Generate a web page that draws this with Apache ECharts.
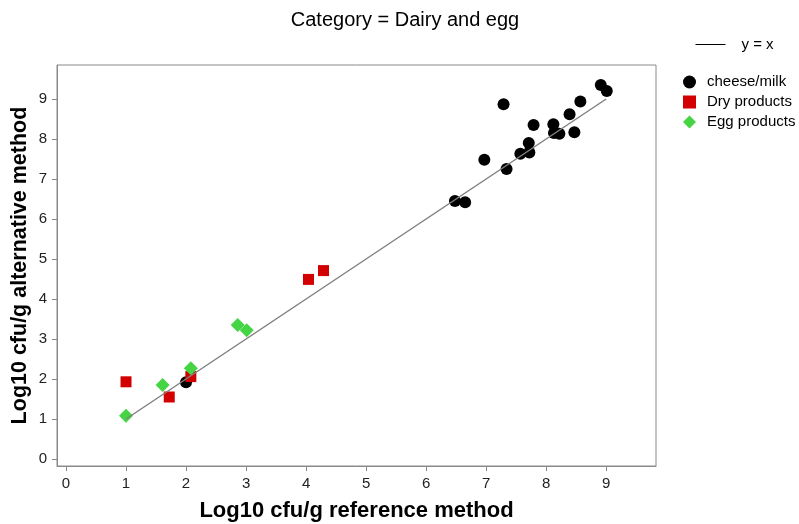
<!DOCTYPE html>
<html>
<head>
<meta charset="utf-8">
<title>Category = Dairy and egg</title>
<script src="https://cdn.jsdelivr.net/npm/echarts@6/dist/echarts.min.js"></script>
<style>
  html, body { margin: 0; padding: 0; background: #fff; }
  #chart { width: 799px; height: 524px; }
</style>
</head>
<body>
<div id="chart"></div>
<script>
// Log10 cfu/g: [reference method, alternative method]
const cheeseMilk = [
  [2.00, 1.92], [6.48, 6.45], [6.65, 6.42], [6.97, 7.48], [7.29, 8.87],
  [7.34, 7.25], [7.57, 7.63], [7.72, 7.66], [7.71, 7.90], [7.79, 8.35],
  [8.12, 8.37], [8.13, 8.15], [8.22, 8.13], [8.39, 8.62], [8.47, 8.17],
  [8.57, 8.94], [8.91, 9.35], [9.01, 9.20]
];
const dryProducts = [
  [1.00, 1.93], [1.72, 1.55], [2.08, 2.06], [4.04, 4.49], [4.29, 4.71]
];
const eggProducts = [
  [1.00, 1.08], [1.61, 1.85], [2.08, 2.27], [2.86, 3.35], [3.01, 3.22]
];
// Identity reference line
const identityLine = [[1, 1], [9, 9]];
const tickValues = [0, 1, 2, 3, 4, 5, 6, 7, 8, 9];

const chart = echarts.init(document.getElementById('chart'), null, { renderer: 'canvas' });
const FONT = 'Liberation Sans, Arial, sans-serif';
const GRAY = '#8a8a8a';

function axis(name, min, max, extra) {
  return Object.assign({
    type: 'value',
    min: min,
    max: max,
    name: name,
    nameLocation: 'middle',
    nameMoveOverlap: false,
    nameTextStyle: { fontFamily: FONT, fontSize: 22, fontWeight: 'bold', color: '#000' },
    axisLine: { show: true, onZero: false, lineStyle: { color: GRAY, width: 1 } },
    axisTick: { show: true, inside: false, length: 5, customValues: tickValues, lineStyle: { color: GRAY } },
    axisLabel: { show: true, customValues: tickValues, fontFamily: FONT, fontSize: 15, color: '#222', margin: 10 },
    splitLine: { show: false }
  }, extra);
}

chart.setOption({
  animation: false,
  backgroundColor: '#fff',
  title: {
    text: 'Category = Dairy and egg',
    left: 400,
    top: 5,
    textAlign: 'center',
    textStyle: { fontFamily: FONT, fontSize: 20, fontWeight: 'normal', color: '#000' }
  },
  grid: {
    left: 57, right: 143, top: 65, bottom: 58,
    outerBoundsMode: 'none',
    containLabel: false,
    show: true, borderColor: GRAY, borderWidth: 1, backgroundColor: '#fff'
  },
  legend: [
    {
      data: ['y = x'],
      left: 695, top: 37,
      padding: 0,
      itemWidth: 30, itemHeight: 14,
      itemStyle: { opacity: 0 },
      lineStyle: { color: '#000', width: 1 },
      textStyle: { fontFamily: FONT, fontSize: 15, color: '#000', padding: [0, 0, 0, 11] },
      selectedMode: false
    },
    {
      data: ['cheese/milk', 'Dry products', 'Egg products'],
      orient: 'vertical',
      left: 683, top: 74.5,
      padding: 0,
      itemWidth: 13, itemHeight: 13,
      itemGap: 5,
      textStyle: { fontFamily: FONT, fontSize: 15, lineHeight: 13, color: '#000', padding: [0, 0, 0, 6] },
      selectedMode: false
    }
  ],
  xAxis: axis('Log10 cfu/g reference method', -0.15, 9.83, { nameGap: 34 }),
  yAxis: axis('Log10 cfu/g alternative method', -0.175, 9.85, {
    nameGap: 26,
    nameTextStyle: { fontFamily: FONT, fontSize: 21.5, fontWeight: 'bold', color: '#000' }
  }),
  series: [
    {
      name: 'y = x',
      type: 'line',
      data: identityLine,
      symbol: 'none',
      lineStyle: { color: '#808080', width: 1.5 },
      itemStyle: { color: '#000' },
      z: 3
    },
    {
      name: 'cheese/milk',
      type: 'scatter',
      data: cheeseMilk,
      symbol: 'circle',
      symbolSize: 12,
      itemStyle: { color: '#000', opacity: 1 },
      z: 2
    },
    {
      name: 'Dry products',
      type: 'scatter',
      data: dryProducts,
      symbol: 'rect',
      symbolSize: 11,
      itemStyle: { color: '#d20000', opacity: 1 },
      z: 2
    },
    {
      name: 'Egg products',
      type: 'scatter',
      data: eggProducts,
      symbol: 'diamond',
      symbolSize: 14,
      itemStyle: { color: '#44d444', opacity: 1 },
      z: 2
    }
  ]
});
</script>
</body>
</html>
